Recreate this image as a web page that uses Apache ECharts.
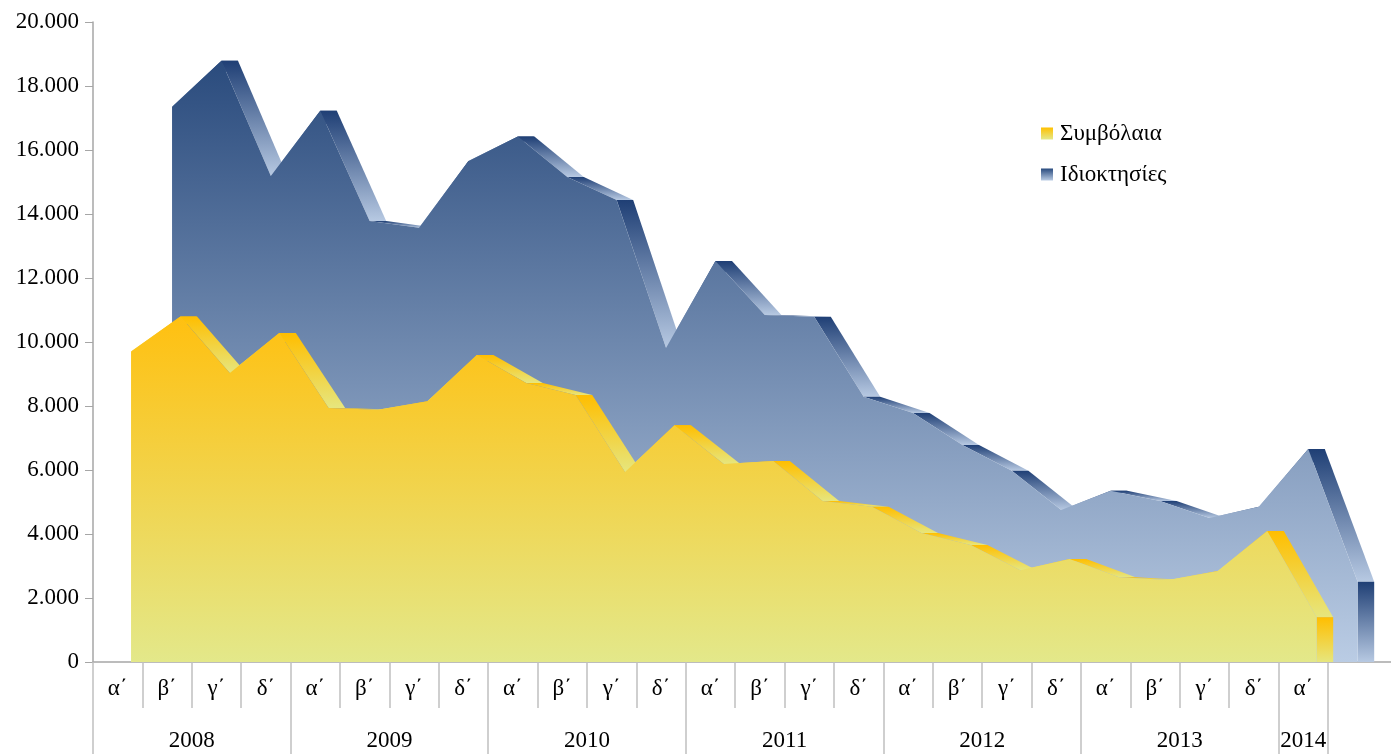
<!DOCTYPE html>
<html>
<head>
<meta charset="utf-8">
<script src="https://cdn.jsdelivr.net/npm/echarts@6/dist/echarts.min.js"></script>
<style>
html, body { margin: 0; padding: 0; background: #fff; }
#chart { width: 1391px; height: 754px; }
</style>
</head>
<body>
<div id="chart"></div>
<script>
// quarters 2008 α΄ .. 2014 α΄
const quarterLabels = ['α΄', 'β΄', 'γ΄', 'δ΄'];
const years = ['2008', '2009', '2010', '2011', '2012', '2013', '2014'];
const quartersPerYear = [4, 4, 4, 4, 4, 4, 1];

const symvolaia = [
    9700, 10800, 9030, 10280,
    7940, 7880, 8150, 9590,
    8720, 8340, 5940, 7400,
    6190, 6280, 5030, 4850,
    4030, 3660, 2870, 3220,
    2650, 2560, 2840, 4090,
    1400
];
const idioktisies = [
    17350, 18790, 15190, 17230,
    13780, 13570, 15660, 16420,
    15160, 14440, 9810, 12530,
    10840, 10790, 8290, 7780,
    6780, 5980, 4750, 5350,
    5030, 4500, 4850, 6660,
    2510
];
const yTicks = [0, 2000, 4000, 6000, 8000, 10000, 12000, 14000, 16000, 18000, 20000];

// fake 3D: series are shifted right, top faces drawn as strips
const unit = 49.4;
const xMax = (1391 - 93) / unit;
const yellowShift = 0.77;
const blueShift = 1.6;
const depth = 0.335;

const categories = [];
years.forEach((y, k) => {
    for (let q = 0; q < quartersPerYear[k]; q++) categories.push(quarterLabels[q]);
});

const yearBounds = [0];
const yearCenters = [];
quartersPerYear.forEach(n => {
    const start = yearBounds[yearBounds.length - 1];
    yearCenters.push(start + n / 2);
    yearBounds.push(start + n);
});

const grad = (top, bottom) => new echarts.graphic.LinearGradient(0, 0, 0, 1, [
    { offset: 0, color: top }, { offset: 1, color: bottom }
]);

const yellowX = categories.map((c, i) => i + yellowShift);
const blueX = categories.map((c, i) => i + blueShift);

function bandSeries(name, xs, vals, top, bottom, z) {
    return {
        type: 'custom',
        name: name,
        silent: true,
        clip: false,
        z: z,
        data: vals.map((v, i) => [xs[i], v]),
        renderItem: (params, api) => {
            const i = params.dataIndex;
            const x0 = xs[i], v0 = vals[i];
            let pts;
            if (i < vals.length - 1) {
                const x1 = xs[i + 1], v1 = vals[i + 1];
                pts = [api.coord([x0, v0]), api.coord([x1, v1]), api.coord([x1 + depth, v1]), api.coord([x0 + depth, v0])];
            } else {
                pts = [api.coord([x0, v0]), api.coord([x0 + depth, v0]), api.coord([x0 + depth, 0]), api.coord([x0, 0])];
            }
            return { type: 'polygon', shape: { points: pts }, style: { fill: grad(top, bottom) } };
        }
    };
}

function areaSeries(name, xs, vals, top, bottom, solid, z) {
    return {
        type: 'line',
        name: name,
        z: z,
        data: vals.map((v, i) => [xs[i], v]),
        symbol: 'none',
        itemStyle: { color: solid },
        lineStyle: { width: 0 },
        areaStyle: { color: grad(top, bottom), opacity: 1 }
    };
}

const font = 'Liberation Serif';
const myChart = echarts.init(document.getElementById('chart'));

const option = {
    animation: false,
    grid: { left: 93, right: 0, top: 22, bottom: 92 },
    legend: {
        orient: 'vertical',
        left: 1036,
        top: 117,
        itemGap: 18,
        itemWidth: 12,
        itemHeight: 12,
        textStyle: { fontFamily: font, fontSize: 23, color: '#000', padding: [0, 0, 0, 2] },
        data: [
            { name: 'Συμβόλαια', icon: 'rect', itemStyle: { color: grad('#ffc000', '#e4e98a') } },
            { name: 'Ιδιοκτησίες', icon: 'rect', itemStyle: { color: grad('#284a7e', '#b9cbe3') } }
        ]
    },
    xAxis: [
        {
            type: 'value',
            min: 0,
            max: xMax,
            axisLine: { show: true, lineStyle: { color: '#a6a6a6', width: 1.5 } },
            splitLine: { show: false },
            axisTick: {
                show: true,
                length: 46,
                lineStyle: { color: '#c0c0c0', width: 1.5 },
                customValues: categories.map((c, i) => i).concat([categories.length])
            },
            axisLabel: {
                margin: 27,
                verticalAlign: 'middle',
                fontFamily: font,
                fontSize: 23,
                color: '#000',
                customValues: categories.map((c, i) => i + 0.5),
                formatter: v => categories[Math.floor(v)]
            }
        },
        {
            type: 'value',
            min: 0,
            max: xMax,
            position: 'bottom',
            axisLine: { show: false },
            splitLine: { show: false },
            axisTick: {
                show: true,
                length: 92,
                lineStyle: { color: '#c0c0c0', width: 1.5 },
                customValues: yearBounds
            },
            axisLabel: {
                margin: 79,
                verticalAlign: 'middle',
                fontFamily: font,
                fontSize: 23,
                color: '#000',
                customValues: yearCenters,
                formatter: v => years[yearCenters.indexOf(v)]
            }
        }
    ],
    yAxis: {
        type: 'value',
        min: 0,
        max: 20000,
        interval: 2000,
        axisLine: { show: true, lineStyle: { color: '#a6a6a6', width: 1.5 } },
        axisTick: { show: true, length: 8, lineStyle: { color: '#a6a6a6' } },
        splitLine: { show: false },
        axisLabel: {
            margin: 14,
            fontFamily: font,
            fontSize: 23,
            color: '#000',
            customValues: yTicks,
            formatter: v => String(v).replace(/\B(?=(\d{3})+(?!\d))/g, '.')
        }
    },
    series: [
        bandSeries('band-b', blueX, idioktisies, '#1f3f75', '#b7c9e2', 1),
        areaSeries('Ιδιοκτησίες', blueX, idioktisies, '#2a4b7d', '#bacce4', '#4f6d9a', 2),
        bandSeries('band-y', yellowX, symvolaia, '#ffbe00', '#e6e67e', 3),
        areaSeries('Συμβόλαια', yellowX, symvolaia, '#ffc010', '#e3e88a', '#f5c842', 4)
    ]
};

myChart.setOption(option);
window.addEventListener('resize', () => myChart.resize());
</script>
</body>
</html>
